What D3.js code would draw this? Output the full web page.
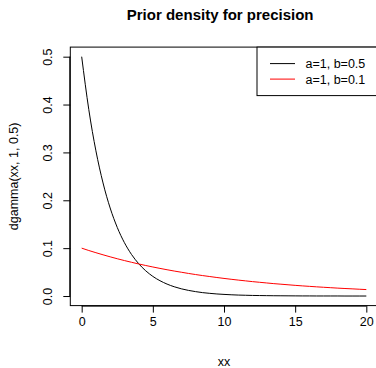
<!DOCTYPE html>
<html>
<head>
<meta charset="utf-8">
<script src="https://cdn.jsdelivr.net/npm/d3@7"></script>
<style>
html,body{margin:0;padding:0;background:#fff;}
text{font-family:"Liberation Sans",Arial,Helvetica,sans-serif;}
</style>
</head>
<body>
<svg id="chart" width="376" height="368"></svg>
<script>
// ---- data ----
const xx = [0,0.5,1,1.5,2,2.5,3,3.5,4,4.5,5,5.5,6,6.5,7,7.5,8,8.5,9,9.5,10,
            10.5,11,11.5,12,12.5,13,13.5,14,14.5,15,15.5,16,16.5,17,17.5,18,18.5,19,19.5,20];
const densB05 = [0.5000,0.3894,0.3033,0.2362,0.1839,0.1433,0.1116,0.0869,0.0677,0.0527,0.0410,
                 0.0320,0.0249,0.0194,0.0151,0.0118,0.0092,0.0071,0.0056,0.0043,0.0034,
                 0.0026,0.0020,0.0016,0.0012,0.0010,0.0008,0.0006,0.0005,0.0004,0.0003,
                 0.0002,0.0002,0.0001,0.0001,0.0001,0.0001,0.0000,0.0000,0.0000,0.0000];
const densB01 = [0.1000,0.0951,0.0905,0.0861,0.0819,0.0779,0.0741,0.0705,0.0670,0.0638,0.0607,
                 0.0577,0.0549,0.0522,0.0497,0.0472,0.0449,0.0427,0.0407,0.0387,0.0368,
                 0.0350,0.0333,0.0317,0.0301,0.0287,0.0273,0.0259,0.0247,0.0235,0.0223,
                 0.0212,0.0202,0.0192,0.0183,0.0174,0.0165,0.0157,0.0150,0.0142,0.0135];
const xTicks = [0,5,10,15,20];
const yTicks = [0.0,0.1,0.2,0.3,0.4,0.5];
const yTickLabels = ["0.0","0.1","0.2","0.3","0.4","0.5"];
const legendLabels = ["a=1, b=0.5","a=1, b=0.1"];
const seriesColors = ["#000000","#FF0000"];
const title = "Prior density for precision";
const xLabel = "xx";
const yLabel = "dgamma(xx, 1, 0.5)";

// ---- layout ----
const svg = d3.select("#chart");
const plotL = 70.3, plotR = 377.7, plotT = 47.1, plotB = 305.6;
const x = d3.scaleLinear().domain([-0.8, 20.8]).range([plotL, plotR]);
const y = d3.scaleLinear().domain([-0.02, 0.52]).range([plotB, plotT]);
const fs = 12.5;

// box
svg.append("rect").attr("x", plotL).attr("y", plotT)
  .attr("width", plotR - plotL).attr("height", plotB - plotT)
  .attr("fill", "none").attr("stroke", "#000").attr("stroke-width", 1);

// x axis
const xAxis = d3.axisBottom(x).tickValues(xTicks).tickSize(7).tickPadding(5).tickFormat(d3.format("d"));
const gx = svg.append("g").attr("transform", `translate(0,${plotB})`).call(xAxis);
gx.select(".domain").attr("d", `M${x(0)},0.5H${x(20)}`).attr("stroke", "#000");
gx.selectAll("text").attr("font-size", fs).attr("font-family", "Liberation Sans, Arial, sans-serif").attr("fill", "#000");
gx.selectAll("line").attr("stroke", "#000");

// y axis
const yAxis = d3.axisLeft(y).tickValues(yTicks).tickSize(7).tickFormat((d, i) => yTickLabels[i]);
const gy = svg.append("g").attr("transform", `translate(${plotL},0)`).call(yAxis);
gy.select(".domain").attr("d", `M-0.5,${y(0)}V${y(0.5)}`).attr("stroke", "#000");
gy.selectAll("line").attr("stroke", "#000");
gy.selectAll("text")
  .attr("font-size", fs).attr("font-family", "Liberation Sans, Arial, sans-serif").attr("fill", "#000")
  .attr("x", null).attr("dy", null)
  .attr("text-anchor", "middle")
  .attr("transform", "translate(-18,0) rotate(-90)");

// lines
const line = d3.line().x((d, i) => x(xx[i])).y(d => y(d)).curve(d3.curveMonotoneX);
[densB05, densB01].forEach((s, k) => {
  svg.append("path").datum(s).attr("d", line)
    .attr("fill", "none").attr("stroke", seriesColors[k]).attr("stroke-width", 1);
});

// title & labels
svg.append("text").attr("x", (plotL + 376) / 2 - 3).attr("y", 20)
  .attr("text-anchor", "middle").attr("font-weight", "bold").attr("font-size", 15).text(title);
svg.append("text").attr("x", (plotL + plotR) / 2).attr("y", 366)
  .attr("text-anchor", "middle").attr("font-size", fs).text(xLabel);
svg.append("text").attr("transform", `translate(18,${(plotT + plotB) / 2}) rotate(-90)`)
  .attr("text-anchor", "middle").attr("font-size", fs).text(yLabel);

// legend
const lg = svg.append("g");
const lx = 257, ly = plotT;
lg.append("rect").attr("x", lx).attr("y", ly).attr("width", plotR - lx).attr("height", 48.5)
  .attr("fill", "#fff").attr("stroke", "#000").attr("stroke-width", 1);
legendLabels.forEach((lab, i) => {
  const yy = ly + 16.5 + i * 15.5;
  lg.append("line").attr("x1", lx + 13).attr("x2", lx + 38).attr("y1", yy).attr("y2", yy)
    .attr("stroke", seriesColors[i]).attr("stroke-width", 1);
  lg.append("text").attr("x", lx + 48.5).attr("y", yy + 4.5).attr("font-size", fs).text(lab);
});
</script>
</body>
</html>
